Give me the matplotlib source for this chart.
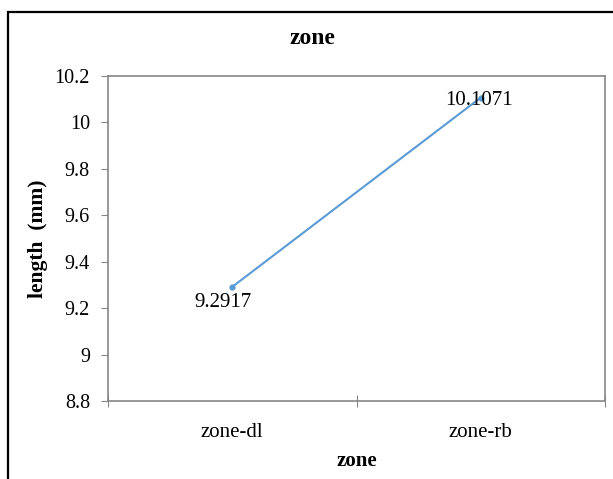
import matplotlib.pyplot as plt
from matplotlib.patches import Rectangle

# data
zones = ['zone-dl', 'zone-rb']
lengths = [9.2917, 10.1071]
point_labels = ['9.2917', '10.1071']
y_ticks = [8.8, 9, 9.2, 9.4, 9.6, 9.8, 10, 10.2]
y_tick_labels = ['8.8', '9', '9.2', '9.4', '9.6', '9.8', '10', '10.2']

plt.rcParams['font.family'] = ['Liberation Serif', 'DejaVu Serif']

fig = plt.figure(figsize=(6.13, 4.79), dpi=100)
W, H = 613, 479

# outer chart frame (left and top edges visible, rest cut off)
fig.patches.append(Rectangle((8 / W, -0.1), 1.2, 1.1 - 12 / H,
                             transform=fig.transFigure, fill=False,
                             edgecolor='black', linewidth=1.6))

ax = fig.add_axes([108 / W, 1 - 401 / H, (605 - 108) / W, (401 - 76) / H])

x = [0.5, 1.5]
ax.plot(x, lengths, color='#5B9BD5', linewidth=1.5, marker='o', markersize=3.5)

ax.annotate(point_labels[0], (x[0], lengths[0]), xytext=(-7, -11),
            textcoords='offset points', ha='center', va='center', fontsize=15)
ax.annotate(point_labels[1], (x[1], lengths[1]), xytext=(-1, -2),
            textcoords='offset points', ha='center', va='center', fontsize=15)

ax.set_xlim(0, 2)
ax.set_ylim(8.8, 10.2)
ax.set_yticks(y_ticks)
ax.set_yticklabels(y_tick_labels, fontsize=14.5)
ax.set_xticks([0, 1, 2])
ax.set_xticklabels([])
ax.set_xticks(x, minor=True)
ax.set_xticklabels(zones, minor=True, fontsize=15)
ax.tick_params(axis='x', which='minor', length=0, pad=16)
ax.tick_params(axis='both', which='major', length=5, color='#868686', direction='out')
ax.tick_params(axis='x', which='major', direction='inout', length=8)
ax.tick_params(axis='y', pad=8)

for s in ax.spines.values():
    s.set_color('#868686')
    s.set_linewidth(1.2)

ax.set_xlabel('zone', fontsize=15, fontweight='bold', labelpad=6)
ax.set_ylabel('length  (mm)', fontsize=15.5, fontweight='bold', labelpad=5)
fig.text(0.51, 1 - 39 / H, 'zone', fontsize=17, fontweight='bold',
         ha='center', va='center')

fig.savefig('out.png', dpi=100)
